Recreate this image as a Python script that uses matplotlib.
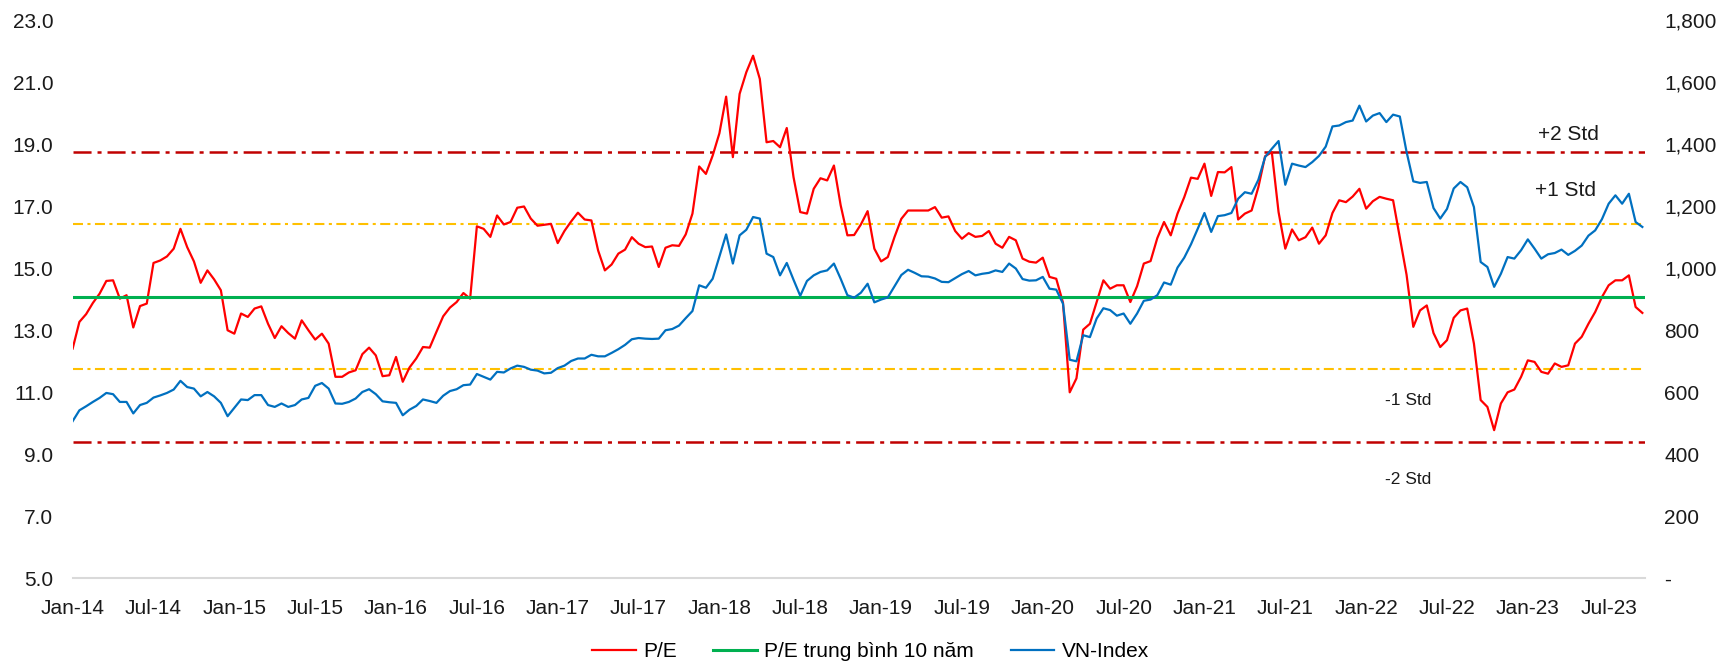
import matplotlib
matplotlib.use('Agg')
import matplotlib.pyplot as plt
from matplotlib.ticker import FuncFormatter
import numpy as np

plt.rcParams['font.family'] = ['Liberation Sans', 'DejaVu Sans']
plt.rcParams['lines.scale_dashes'] = False

# P/E thi truong va VN-Index, moi nua thang mot diem, bat dau Jan-14
pe_ratio = [
    12.41, 13.27, 13.52, 13.88, 14.18, 14.59, 14.61, 14.02, 14.13, 13.09,
    13.78, 13.86, 15.17, 15.25, 15.38, 15.63, 16.27, 15.68, 15.22, 14.53,
    14.93, 14.64, 14.29, 13.00, 12.89, 13.54, 13.43, 13.70, 13.77, 13.21,
    12.75, 13.13, 12.91, 12.73, 13.32, 13.00, 12.70, 12.89, 12.57, 11.50,
    11.50, 11.64, 11.71, 12.23, 12.44, 12.19, 11.52, 11.55, 12.14, 11.34,
    11.80, 12.09, 12.46, 12.44, 12.95, 13.45, 13.73, 13.91, 14.20, 14.02,
    16.35, 16.27, 16.01, 16.70, 16.41, 16.49, 16.95, 16.99, 16.60, 16.37,
    16.40, 16.43, 15.81, 16.20, 16.51, 16.79, 16.57, 16.54, 15.57, 14.93,
    15.12, 15.47, 15.60, 16.00, 15.79, 15.68, 15.70, 15.04, 15.66, 15.74,
    15.72, 16.09, 16.76, 18.28, 18.04, 18.63, 19.35, 20.53, 18.58, 20.62,
    21.32, 21.85, 21.10, 19.06, 19.10, 18.90, 19.52, 17.94, 16.81, 16.76,
    17.56, 17.90, 17.83, 18.31, 17.03, 16.06, 16.07, 16.41, 16.84, 15.63,
    15.22, 15.36, 16.01, 16.59, 16.86, 16.86, 16.86, 16.86, 16.97, 16.63,
    16.67, 16.20, 15.95, 16.13, 16.01, 16.04, 16.20, 15.79, 15.66, 16.01,
    15.90, 15.31, 15.21, 15.18, 15.34, 14.72, 14.66, 13.89, 11.00, 11.45,
    13.02, 13.21, 13.91, 14.61, 14.34, 14.45, 14.45, 13.91, 14.42, 15.15,
    15.23, 15.97, 16.49, 16.06, 16.76, 17.29, 17.92, 17.88, 18.37, 17.33,
    18.10, 18.09, 18.26, 16.57, 16.76, 16.86, 17.61, 18.61, 18.74, 16.81,
    15.63, 16.25, 15.90, 16.00, 16.31, 15.79, 16.06, 16.78, 17.19, 17.13,
    17.31, 17.56, 16.92, 17.16, 17.30, 17.24, 17.19, 15.98, 14.79, 13.11,
    13.64, 13.80, 12.91, 12.46, 12.68, 13.40, 13.64, 13.70, 12.57, 10.75,
    10.53, 9.78, 10.64, 11.00, 11.09, 11.50, 12.03, 11.98, 11.66, 11.60,
    11.93, 11.82, 11.87, 12.57, 12.79, 13.21, 13.59, 14.07, 14.45, 14.61,
    14.61, 14.77, 13.75, 13.56,
]

vn_index = [
    507, 542, 555, 569, 582, 598, 594, 569, 569, 532,
    559, 566, 583, 590, 598, 609, 637, 617, 612, 587,
    601, 587, 566, 523, 550, 577, 575, 591, 591, 559,
    553, 564, 553, 559, 577, 582, 621, 630, 612, 564,
    563, 569, 580, 601, 610, 594, 571, 568, 566, 526,
    544, 556, 577, 572, 566, 589, 604, 610, 623, 625,
    659, 650, 641, 666, 664, 677, 686, 682, 673, 670,
    661, 663, 678, 686, 701, 709, 709, 721, 716, 716,
    727, 739, 753, 771, 775, 773, 772, 773, 800, 804,
    815, 839, 862, 945, 937, 966, 1038, 1109, 1015, 1106,
    1124, 1165, 1160, 1047, 1036, 977, 1017, 963, 911, 959,
    977, 988, 993, 1015, 966, 913, 905, 921, 950, 890,
    899, 906, 942, 978, 995, 985, 974, 973, 967, 956,
    955, 968, 981, 991, 977, 982, 985, 993, 988, 1015,
    999, 965, 960, 961, 972, 934, 931, 886, 705, 700,
    784, 778, 838, 871, 865, 847, 854, 821, 854, 895,
    899, 913, 954, 947, 1002, 1034, 1077, 1127, 1178, 1117,
    1168, 1171, 1178, 1224, 1245, 1240, 1285, 1358, 1385, 1410,
    1269, 1337, 1331, 1326, 1342, 1362, 1392, 1457, 1460, 1471,
    1476, 1524, 1473, 1492, 1500, 1471, 1495, 1489, 1375, 1280,
    1275, 1278, 1194, 1160, 1191, 1257, 1278, 1261, 1197, 1020,
    1004, 940, 982, 1036, 1031, 1058, 1093, 1063, 1031, 1045,
    1049, 1060, 1043, 1056, 1073, 1105, 1122, 1158, 1208, 1235,
    1208, 1240, 1149, 1133,
]

pe_mean = 14.08
pe_plus1, pe_minus1 = 16.42, 11.74
pe_plus2, pe_minus2 = 18.75, 9.41

tick_labels = ['Jan-14', 'Jul-14', 'Jan-15', 'Jul-15', 'Jan-16', 'Jul-16',
               'Jan-17', 'Jul-17', 'Jan-18', 'Jul-18', 'Jan-19', 'Jul-19',
               'Jan-20', 'Jul-20', 'Jan-21', 'Jul-21', 'Jan-22', 'Jul-22',
               'Jan-23', 'Jul-23']

# truc thoi gian tinh bang thang ke tu Jan-14
months = np.arange(len(pe_ratio)) / 2.0
tick_pos = np.arange(len(tick_labels)) * 6

FS = 15
TXT = '#1a1a1a'

fig = plt.figure(figsize=(17.34, 6.63), dpi=100)
ax = fig.add_axes([0.0419, 0.1275, 0.9068, 0.8423])
ax2 = ax.twinx()

# cac duong do lech chuan
red_dash = (0, (13, 4.3, 2.9, 4.3))
yel_dash = (0, (7.2, 3.2, 2.2, 3.2))
ax.axhline(pe_plus2, color='#C00000', lw=1.8, linestyle=red_dash, zorder=2)
ax.axhline(pe_minus2, color='#C00000', lw=1.8, linestyle=red_dash, zorder=2)
ax.axhline(pe_plus1, color='#FFC000', lw=1.5, linestyle=yel_dash, zorder=2)
ax.axhline(pe_minus1, color='#FFC000', lw=1.5, linestyle=yel_dash, zorder=2)

l1, = ax.plot(months, pe_ratio, color='#FF0000', lw=1.6, label='P/E', zorder=3)
l2 = ax.axhline(pe_mean, color='#00B050', lw=2.2, label='P/E trung bình 10 năm', zorder=4)
l3, = ax2.plot(months, vn_index, color='#0070C0', lw=1.6, label='VN-Index')

ax.text(111.0, 19.3, '+2 Std', fontsize=15, ha='center', va='center', color=TXT)
ax.text(110.8, 17.49, '+1 Std', fontsize=15, ha='center', va='center', color=TXT)
ax.text(99.1, 10.75, '-1 Std', fontsize=12.5, ha='center', va='center', color=TXT)
ax.text(99.1, 8.2, '-2 Std', fontsize=12.5, ha='center', va='center', color=TXT)

ax.set_xlim(0, 116.7)
ax.set_ylim(5, 23)
ax.set_yticks(np.arange(5, 23.1, 2))
ax.yaxis.set_major_formatter(FuncFormatter(lambda v, p: f'{v:.1f}'))
ax.set_xticks(tick_pos)
ax.set_xticklabels(tick_labels)

ax2.set_ylim(0, 1800)
ax2.set_yticks(np.arange(0, 1801, 200))
ax2.yaxis.set_major_formatter(FuncFormatter(lambda v, p: '-' if v == 0 else f'{v:,.0f}'))

for a in (ax, ax2):
    for s in ('top', 'left', 'right', 'bottom'):
        a.spines[s].set_visible(False)
    a.tick_params(length=0, labelsize=FS, colors=TXT)
ax.spines['bottom'].set_visible(True)
ax.spines['bottom'].set_color('#D9D9D9')
ax.spines['bottom'].set_linewidth(1.5)
ax.tick_params(axis='y', pad=14)
ax.tick_params(axis='x', pad=14.5)
ax2.tick_params(axis='y', pad=14)

fig.legend(handles=[l1, l2, l3], loc='center', bbox_to_anchor=(0.502, 0.017),
           ncol=3, frameon=False, fontsize=FS, handlelength=2.1,
           handletextpad=0.35, columnspacing=1.75)

fig.savefig('out.png', dpi=100)
plt.close(fig)
